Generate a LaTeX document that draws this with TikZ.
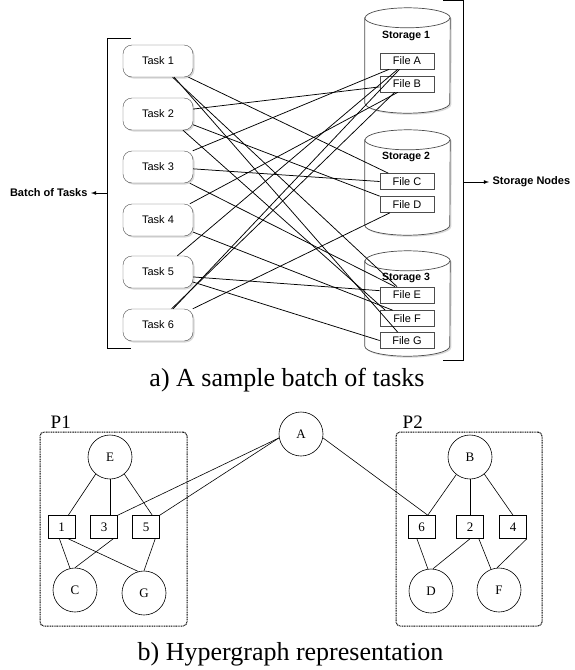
\documentclass[tikz,border=0pt]{standalone}
\usepackage{fontspec}
\setmainfont{Liberation Serif}
\newfontfamily\sansf{Liberation Sans}
\usetikzlibrary{shadows}

\begin{document}
\begin{tikzpicture}[x=1pt,y=-1pt,>=latex,
    task/.style={draw=black!70,fill=white,rounded corners=9pt,minimum width=70pt,minimum height=32pt,inner sep=0pt,
        font=\sansf\fontsize{11}{13}\selectfont,drop shadow={shadow xshift=1.5pt,shadow yshift=-1.5pt,opacity=.3}},
    store/.style={minimum width=85pt,minimum height=85pt,inner sep=0pt},
    cyl/.style={draw=black!70,fill=white,line width=.7pt},
    file/.style={draw=black!70,fill=white,line width=.7pt,minimum width=54pt,minimum height=16pt,inner sep=0pt,
        font=\sansf\fontsize{11}{13}\selectfont},
    tag/.style={font=\sansf\bfseries\fontsize{11}{13}\selectfont},
    ln/.style={line width=.75pt},
    vx/.style={circle,draw,line width=.6pt,minimum size=44pt,inner sep=0pt,font=\fontsize{13}{15}\selectfont},
    he/.style={draw,line width=.6pt,minimum width=27pt,minimum height=23pt,inner sep=0pt,font=\fontsize{13}{15}\selectfont},
    part/.style={draw=black,dash pattern=on 1pt off .7pt,line width=1pt,rounded corners=4pt,inner sep=0pt},
    caption/.style={font=\fontsize{26}{30}\selectfont,anchor=base}]
    \useasboundingbox (0,0) rectangle (574,670);

    % storage nodes
    \foreach \s/\y in {1/60.5,2/182.5,3/303.5} {
        \node[store] (s\s) at (407.5,\y) {};
        \draw[cyl,drop shadow={shadow xshift=1.5pt,shadow yshift=-1.5pt,opacity=.3}]
            (s\s.north west) -- (s\s.south west) arc[start angle=180,end angle=360,x radius=42.5pt,y radius=10pt]
            -- (s\s.north east) arc[start angle=0,end angle=180,x radius=42.5pt,y radius=10pt] -- cycle;
        \draw[cyl] (s\s.north west) arc[start angle=180,end angle=360,x radius=42.5pt,y radius=10pt];
    }
    \node[font=\sansf\bfseries\fontsize{10.5}{12}\selectfont] (l1) at (406,36) {Storage 1};
    \node[font=\sansf\bfseries\fontsize{10.5}{12}\selectfont] (l2) at (406,157) {Storage 2};
    \node[font=\sansf\bfseries\fontsize{10.5}{12}\selectfont] (l3) at (406,278) {Storage 3};

    \node[file] (fA) at (407,61) {File A};
    \node[file] (fB) at (407,84) {File B};
    \node[file] (fC) at (407,181.5) {File C};
    \node[file] (fD) at (407,204.5) {File D};
    \node[file] (fE) at (407,295) {File E};
    \node[file] (fF) at (407,318.5) {File F};
    \node[file] (fG) at (407,340.5) {File G};

    % tasks
    \foreach \t/\y in {1/61,2/114,3/167,4/220,5/272,6/325}
        \node[task] (t\t) at (158,\y) {Task \t};

    % task -> file
    \draw[ln] (t1.-28) -- (fC.156);
    \draw[ln] (t1.-48) -- (fE.140);
    \draw[ln] (t1.-45) -- (fG.138);
    \draw[ln] (t2.8) -- (fB.186);
    \draw[ln] (t2.-17) -- (fD.163);
    \draw[ln] (t2.-33) -- (fF.159);
    \draw[ln] (t3.25) -- (fA.205);
    \draw[ln] (t3.-3) -- (fC.west);
    \draw[ln] (t3.-27) -- (fE.145);
    \draw[ln] (t4.27) -- (fB.222);
    \draw[ln] (t4.-19) -- (fF.150);
    \draw[ln] (t5.40) -- (fA.222);
    \draw[ln] (t5.-8) -- (fE.171);
    \draw[ln] (t5.-16) -- (fG.west);
    \draw[ln] (t6.47) -- (fA.228);
    \draw[ln] (t6.50) -- (fB.214);
    \draw[ln] (t6.25) -- (fD.206);

    % brackets
    \coordinate (bl) at (107,193);
    \coordinate (br) at (463,182);
    \draw[line width=.8pt] (131,38) -- (107,38) -- (107,348) -- (131,348);
    \draw[line width=.8pt] (443,.5) -- (463,.5) -- (463,360) -- (443,360);
    \node[tag,anchor=east] (bt) at (91,193) {Batch of Tasks};
    \node[tag,anchor=west] (sn) at (489,182) {Storage Nodes};
    \draw[->,line width=.8pt] (bl) -- (bt.east);
    \draw[->,line width=.8pt] (br) -- (sn.west);

    \node[caption] (capa) at (287,386) {a) A sample batch of tasks};

    % hypergraph
    \node[part,minimum width=147pt,minimum height=194pt] (p1) at (113.5,529) {};
    \node[part,minimum width=146pt,minimum height=194pt] (p2) at (469,529) {};
    \node[anchor=south west,font=\fontsize{19}{21}\selectfont,inner sep=0pt] (p1l) at ([xshift=11pt,yshift=3pt]p1.north west) {P1};
    \node[anchor=south west,font=\fontsize{19}{21}\selectfont,inner sep=0pt] (p2l) at ([xshift=7pt,yshift=3pt]p2.north west) {P2};

    \node[vx] (A) at (301,434) {A};
    \node[vx] (E) at (110,457) {E};
    \node[vx] (B) at (470,457) {B};
    \node[vx] (C) at (75,590) {C};
    \node[vx] (G) at (144,593) {G};
    \node[vx] (D) at (431,591) {D};
    \node[vx] (F) at (499,590) {F};

    \node[he] (h1) at (61.5,527) {1};
    \node[he] (h3) at (104,527) {3};
    \node[he] (h5) at (146,527) {5};
    \node[he] (h6) at (421.5,527) {6};
    \node[he] (h2) at (470,527) {2};
    \node[he] (h4) at (513,527) {4};

    \draw[line width=.6pt] (E.230) -- (h1.60);
    \draw[line width=.6pt] (E.south) -- (E.south |- h3.north);
    \draw[line width=.6pt] (E.-50) -- (h5.62);
    \draw[line width=.6pt] (A.190) -- (h3.north east);
    \draw[line width=.6pt] (A.190) -- (h5.north east);
    \draw[line width=.6pt] (A.-10) -- (h6.62);
    \draw[line width=.6pt] (B.232) -- (h6.62);
    \draw[line width=.6pt] (B.south) -- (h2.north);
    \draw[line width=.6pt] (B.-50) -- (h4.north);
    \draw[line width=.6pt] (h1.-100) -- (C.103);
    \draw[line width=.6pt] (h1.-60) -- (G.105);
    \draw[line width=.6pt] (h3.-52) -- (C.north);
    \draw[line width=.6pt] (h5.-52) -- (G.north);
    \draw[line width=.6pt] (h6.-111) -- (D.98);
    \draw[line width=.6pt] (h2.south) -- (D.85);
    \draw[line width=.6pt] (h2.-53) -- (F.111);
    \draw[line width=.6pt] (h4.south east) -- (F.95);

    \node[caption] (capb) at (290.5,660) {b) Hypergraph representation};
\end{tikzpicture}
\end{document}
